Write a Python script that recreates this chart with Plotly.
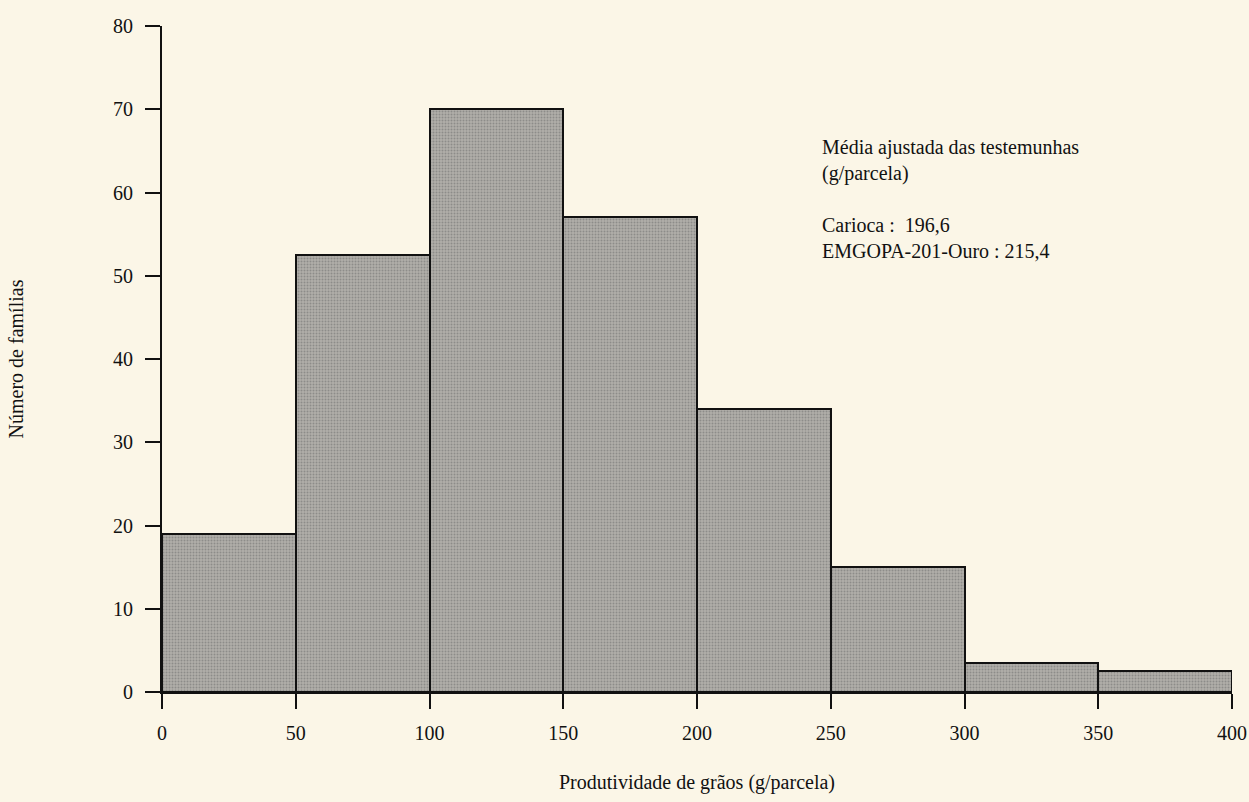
import plotly.graph_objects as go

bin_starts = [0, 50, 100, 150, 200, 250, 300, 350]
bin_width = 50
counts = [19, 52.5, 70, 57, 34, 15, 3.5, 2.5]
x_ticks = [0, 50, 100, 150, 200, 250, 300, 350, 400]
y_ticks = [0, 10, 20, 30, 40, 50, 60, 70, 80]
note_lines = ["Média ajustada das testemunhas", "(g/parcela)", "", "Carioca :  196,6", "EMGOPA-201-Ouro : 215,4"]

centers = [s + bin_width / 2 for s in bin_starts]

font = "Liberation Serif"
bg = "#fbf6e7"

fig = go.Figure()
fig.add_trace(go.Bar(
    x=centers, y=counts, width=[bin_width] * len(counts),
    marker=dict(color="#a09e99", line=dict(color="#111111", width=2),
                pattern=dict(shape=".", size=3, solidity=0.35, fgcolor="#6a6a6a", bgcolor="#b0aea9")),
    showlegend=False, hoverinfo="skip",
))

fig.add_annotation(
    x=246, y=67.0, xref="x", yref="y", xanchor="left", yanchor="top",
    text="<br>".join(note_lines), showarrow=False, align="left",
    font=dict(family=font, size=20, color="#111111"),
)

fig.update_layout(
    width=1249, height=802,
    margin=dict(l=162, r=17, t=26, b=110),
    paper_bgcolor=bg, plot_bgcolor=bg,
    bargap=0,
    font=dict(family=font, size=20, color="#111111"),
)
fig.update_xaxes(
    range=[0, 400], tickvals=x_ticks, ticktext=[str(v) for v in x_ticks],
    showgrid=False, zeroline=False, showline=True, linecolor="#111111", linewidth=2,
    ticks="outside", ticklen=15, tickwidth=2, tickcolor="#111111",
    title=dict(text="Produtividade de grãos (g/parcela)", font=dict(family=font, size=20), standoff=32),
    tickfont=dict(family=font, size=20), ticklabelstandoff=7, automargin=False,
)
fig.update_yaxes(
    range=[0, 80], tickvals=y_ticks, ticktext=[str(v) for v in y_ticks],
    showgrid=False, zeroline=False, showline=True, linecolor="#111111", linewidth=2,
    ticks="outside", ticklen=15, tickwidth=2, tickcolor="#111111",
    title=dict(text="Número de famílias", font=dict(family=font, size=20), standoff=84),
    tickfont=dict(family=font, size=20), ticklabelstandoff=8, automargin=False,
)

post = ("document.body.style.margin='0';document.body.style.overflow='hidden';"
        "document.body.style.background='%s';" % bg)
fig.write_html("out.html", post_script=post, config={"displayModeBar": False})
